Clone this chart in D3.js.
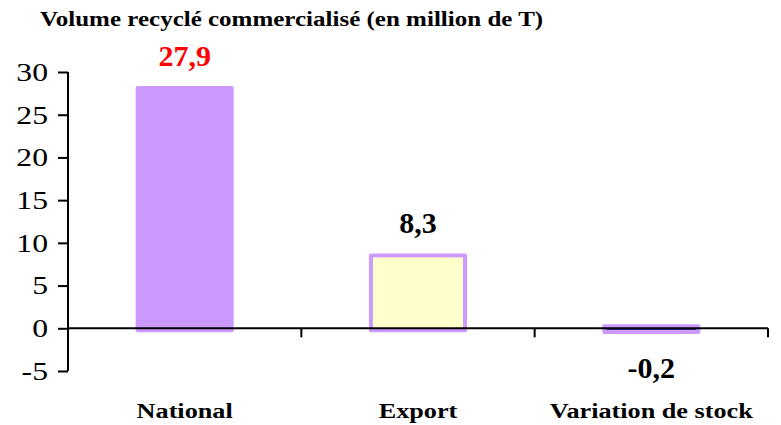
<!DOCTYPE html>
<html>
<head>
<meta charset="utf-8">
<script src="https://cdn.jsdelivr.net/npm/d3@7"></script>
</head>
<body style="margin:0; background:#fff">
<div class="chart"></div>
<script>
/* Data
============================================= */
const categories = ["National", "Export", "Variation de stock"];
const values = [27.9, 8.3, -0.2];
const valueLabels = ["27,9", "8,3", "-0,2"];
const yTicks = [-5, 0, 5, 10, 15, 20, 25, 30];
const titleText = "Volume recyclé commercialisé (en million de T)";

const FONT = '"Liberation Serif"';
const STRETCH = 1.22;   // the source picture is a little wider than tall

/* Layout
============================================= */
const SVG_WIDTH = 781;
const SVG_HEIGHT = 425;

var margin = { left: 68, right: 13, top: 72, bottom: 54 };
var width = SVG_WIDTH - margin.left - margin.right;
var height = SVG_HEIGHT - margin.top - margin.bottom;

var svg = d3.select(".chart")
    .append("svg")
    .attr("width", SVG_WIDTH)
    .attr("height", SVG_HEIGHT);

var chart = svg.append("g")
    .attr("transform", `translate(${margin.left}, ${margin.top})`);

var xScale = d3.scaleBand()
    .domain(categories)
    .range([0, width])
    .paddingInner(0.614)
    .paddingOuter(0.307);

var yScale = d3.scaleLinear()
    .domain([-5, 30])
    .range([height, 0]);

// title
svg.append("text")
    .attr("transform", `translate(40, 26) scale(${STRETCH}, 1)`)
    .style("font-family", FONT)
    .style("font-size", "20.5px")
    .style("font-weight", "bold")
    .text(titleText);

// bars: outer purple border drawn as a slightly larger rect behind the fill
var fills = ["#CC99FF", "#FFFFCC", "#333399"];
var border = 4;

var bars = chart.selectAll("g.bar")
    .data(values)
    .enter()
    .append("g")
    .attr("class", "bar");

bars.append("rect")
    .attr("x", (d, i) => xScale(categories[i]) - border)
    .attr("width", xScale.bandwidth() + 2 * border)
    .attr("y", d => yScale(Math.max(0, d)) - border)
    .attr("height", d => Math.abs(yScale(d) - yScale(0)) + 2 * border)
    .attr("rx", 2)
    .attr("fill", "#CC99FF");

bars.append("rect")
    .attr("x", (d, i) => xScale(categories[i]))
    .attr("width", xScale.bandwidth())
    .attr("y", d => yScale(Math.max(0, d)))
    .attr("height", d => Math.abs(yScale(d) - yScale(0)))
    .attr("fill", (d, i) => fills[i]);

// y axis
var leftAxis = d3.axisLeft(yScale)
    .tickValues(yTicks)
    .tickFormat(d => String(d))
    .tickSize(10);

var yAxis = chart.append("g").call(leftAxis);
yAxis.select(".domain").attr("stroke", "#000").attr("stroke-width", 2)
    .attr("d", `M0,${yScale(-5)}V${yScale(30)}`);
yAxis.selectAll(".tick line").attr("stroke", "#000").attr("stroke-width", 2);
yAxis.selectAll(".tick text")
    .attr("x", -20 / STRETCH)
    .attr("transform", `scale(${STRETCH}, 1)`)
    .style("font-family", FONT)
    .style("font-size", "26px")
    .attr("fill", "#000");

// x axis at zero
var xAxisG = chart.append("g")
    .attr("transform", `translate(0, ${yScale(0)})`);
xAxisG.append("line")
    .attr("x1", 0).attr("x2", width)
    .attr("stroke", "#000").attr("stroke-width", 2);
xAxisG.selectAll("line.sep")
    .data(categories)
    .enter()
    .append("line")
    .attr("class", "sep")
    .attr("x1", (d, i) => (i + 1) * width / categories.length)
    .attr("x2", (d, i) => (i + 1) * width / categories.length)
    .attr("y1", 0).attr("y2", 9)
    .attr("stroke", "#000").attr("stroke-width", 2);

// category labels
chart.selectAll("text.cat")
    .data(categories)
    .enter()
    .append("text")
    .attr("class", "cat")
    .attr("transform", d => `translate(${xScale(d) + xScale.bandwidth() / 2}, ${height + 47}) scale(${STRETCH}, 1)`)
    .attr("text-anchor", "middle")
    .style("font-family", FONT)
    .style("font-size", "21.5px")
    .style("font-weight", "bold")
    .text(d => d);

// value labels
chart.selectAll("text.val")
    .data(values)
    .enter()
    .append("text")
    .attr("class", "val")
    .attr("x", (d, i) => xScale(categories[i]) + xScale.bandwidth() / 2)
    .attr("y", d => d >= 0 ? yScale(d) - 24 : yScale(0) + 50)
    .attr("text-anchor", "middle")
    .style("font-family", FONT)
    .style("font-size", "30px")
    .style("font-weight", "bold")
    .attr("fill", (d, i) => i === 0 ? "#FF0000" : "#000")
    .text((d, i) => valueLabels[i]);
</script>
</body>
</html>
